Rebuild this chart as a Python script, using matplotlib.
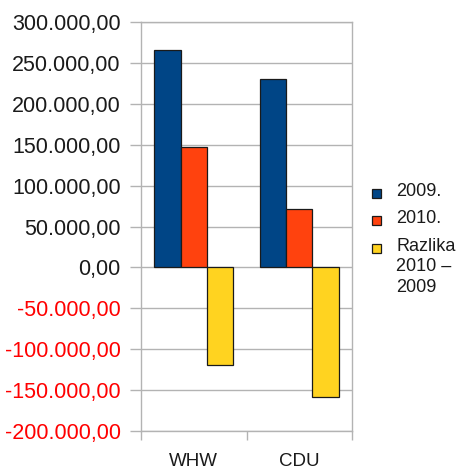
import matplotlib
matplotlib.use("Agg")
import matplotlib.pyplot as plt
import numpy as np
from matplotlib.patches import Rectangle

plt.rcParams["font.family"] = ["Liberation Sans", "DejaVu Sans"]

categories = ["WHW", "CDU"]
series_labels = ["2009.", "2010.", "Razlika\n2010 –\n2009"]
values_2009 = [266000, 230000]
values_2010 = [147000, 71000]
values_diff = [-119000, -159000]
y_ticks = [-200000, -150000, -100000, -50000, 0, 50000, 100000, 150000, 200000, 250000, 300000]

colors = ["#004586", "#ff420e", "#ffd320"]


def fmt(v):
    s = f"{abs(v):,.2f}".replace(",", "X").replace(".", ",").replace("X", ".")
    return ("-" if v < 0 else "") + s


fig = plt.figure(figsize=(4.65, 4.70), dpi=100)
ax = fig.add_axes([141 / 465, 1 - 431 / 470, (352 - 141) / 465, (431 - 22) / 470])

x = np.arange(len(categories))
w = 0.25
for i, (vals, c) in enumerate(zip([values_2009, values_2010, values_diff], colors)):
    ax.bar(x + (i - 1) * w, vals, width=w, color=c, edgecolor="#1a1a1a",
           linewidth=0.9, zorder=3)

ax.set_xlim(-0.5, len(categories) - 0.5)
ax.set_ylim(y_ticks[0], y_ticks[-1])
ax.set_yticks(y_ticks)
ax.set_yticklabels([fmt(v) for v in y_ticks], fontsize=15.5)
for lbl, v in zip(ax.get_yticklabels(), y_ticks):
    lbl.set_color("#ff0000" if v < 0 else "#1a1a1a")
ax.tick_params(axis="y", length=8, width=1, color="#b3b3b3", pad=6.5)
ax.grid(axis="y", color="#b3b3b3", linewidth=1, zorder=0)

ax.set_xticks(x)
ax.set_xticklabels(categories, fontsize=13.5, color="#1a1a1a")
ax.set_xticks(np.arange(len(categories) + 1) - 0.5, minor=True)
ax.tick_params(axis="x", which="major", length=0, pad=16)
ax.tick_params(axis="x", which="minor", length=6.5, width=1, color="#b3b3b3")
for sp in ax.spines.values():
    sp.set_color("#b3b3b3")
    sp.set_linewidth(1)

# legend
ys = [193, 220, 248]
for lab, c, yy in zip(series_labels, colors, ys):
    fig.patches.append(Rectangle(((372) / 465, 1 - (yy + 4.5) / 470), 9 / 465, 9 / 470,
                                 transform=fig.transFigure, facecolor=c,
                                 edgecolor="#1a1a1a", linewidth=0.9))
    fig.text(396 / 465, 1 - (yy - 10) / 470, lab, fontsize=13, va="top", ha="left",
             color="#1a1a1a", linespacing=1.25)

fig.savefig("out.png", dpi=100)
